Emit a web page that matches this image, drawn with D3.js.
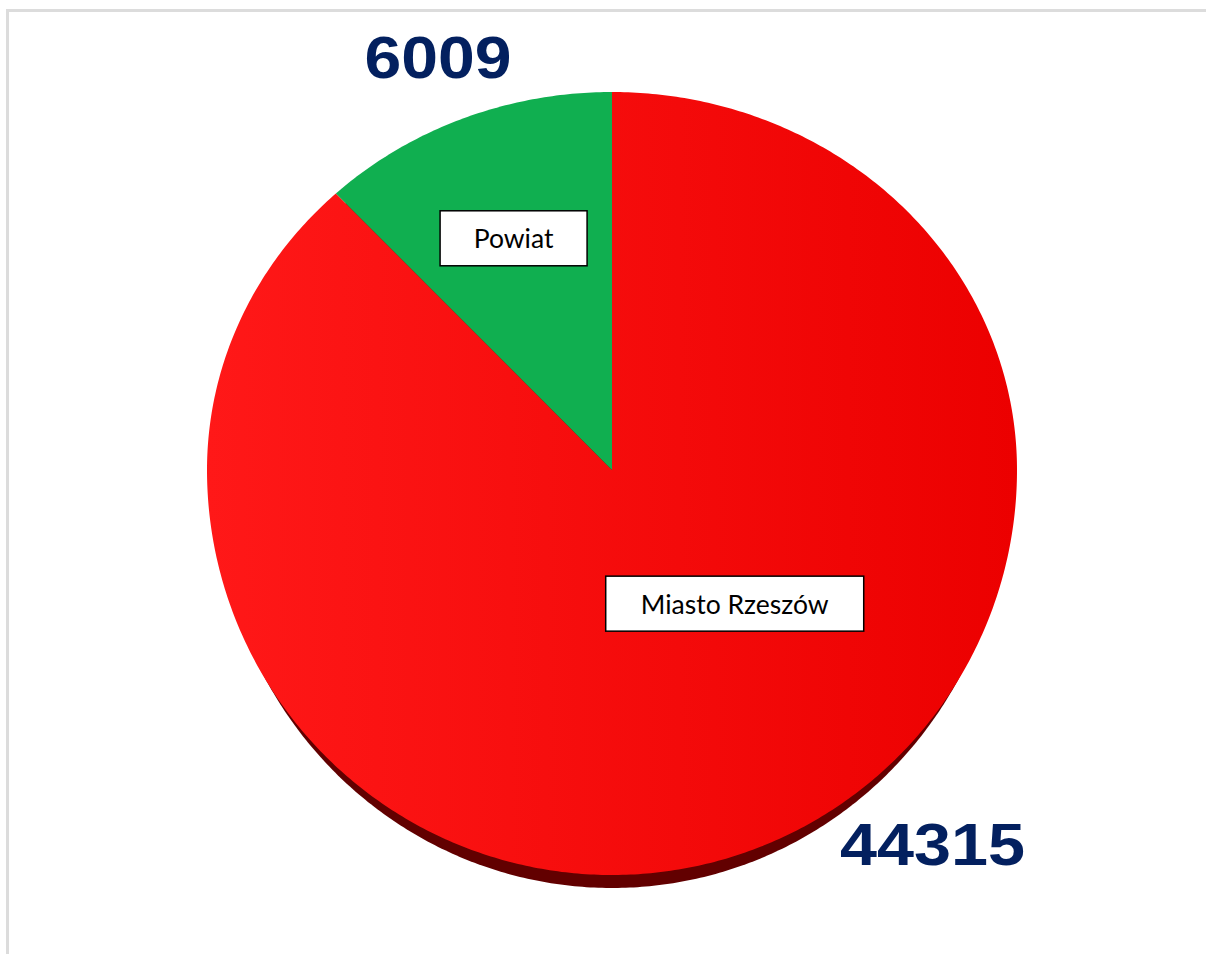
<!DOCTYPE html>
<html>
<head>
<meta charset="utf-8">
<script src="https://cdn.jsdelivr.net/npm/d3@7"></script>
<style>
  html, body { margin: 0; padding: 0; background: #fff; }
  svg { display: block; }
</style>
</head>
<body>
<svg id="chart" width="1206" height="954"></svg>
<script>
// ---- data ----
const categories = ["Miasto Rzeszów", "Powiat"];
const values = [44315, 6009];
const valueLabels = ["44315", "6009"];
const colors = ["#f20a0a", "#10af50"];

const W = 1206, H = 954;
const svg = d3.select("#chart");

// frame (light gray top & left edges)
svg.append("line").attr("x1", 7.5).attr("x2", W).attr("y1", 10.5).attr("y2", 10.5)
  .attr("stroke", "#dcdcdc").attr("stroke-width", 3);
svg.append("line").attr("x1", 7.5).attr("x2", 7.5).attr("y1", 9).attr("y2", H)
  .attr("stroke", "#dcdcdc").attr("stroke-width", 3);

// scales mapping unit circle to slightly perspective ellipse
const sx = d3.scaleLinear().domain([-1, 1]).range([207, 1017]);
const sy = d3.scaleLinear().domain([-1, 0, 1]).range([92, 470, 875]);
const sxSide = d3.scaleLinear().domain([-1, 1]).range([216, 1008]);
const sySide = d3.scaleLinear().domain([-1, 0, 1]).range([105, 483, 888]);

const pie = d3.pie().sort(null).value(d => d);
const arcs = pie(values);

const line = d3.line().x(p => sx(p[0])).y(p => sy(p[1]));
const sideLine = d3.line().x(p => sxSide(p[0])).y(p => sySide(p[1]));

function slicePoints(a0, a1) {
  const n = Math.max(8, Math.ceil((a1 - a0) / 0.01));
  const pts = [[0, 0]];
  for (let i = 0; i <= n; i++) {
    const a = a0 + (a1 - a0) * i / n;
    pts.push([Math.sin(a), -Math.cos(a)]);
  }
  pts.push([0, 0]);
  return pts;
}

const defs = svg.append("defs");
const grad = defs.append("linearGradient").attr("id", "redGrad")
  .attr("x1", "0%").attr("x2", "100%").attr("y1", "0%").attr("y2", "0%");
grad.append("stop").attr("offset", "0%").attr("stop-color", "#ff1818");
grad.append("stop").attr("offset", "100%").attr("stop-color", "#ec0000");

// side (thickness) of the 3D pie
svg.append("path")
  .attr("d", sideLine(slicePoints(0, 2 * Math.PI).slice(1, -1)) + "Z")
  .attr("fill", "#620000");

// top faces
svg.selectAll("path.slice").data(arcs).enter().append("path")
  .attr("class", "slice")
  .attr("d", d => line(slicePoints(d.startAngle, d.endAngle)) + "Z")
  .attr("fill", (d, i) => i === 0 ? "url(#redGrad)" : colors[i]);

// category label boxes (positioned relative to pie geometry)
const boxSpecs = [
  { w: 258, h: 55, cx: sx(0.303), cy: sy(0.33), fs: 26.5 },
  { w: 147, h: 55, cx: sx(-0.243), cy: sy(-0.613), fs: 26.5 }
];
arcs.forEach((d, i) => {
  const b = boxSpecs[i];
  const g = svg.append("g").attr("transform", `translate(${b.cx},${b.cy})`);
  g.append("rect").attr("x", -b.w / 2).attr("y", -b.h / 2)
    .attr("width", b.w).attr("height", b.h)
    .attr("fill", "#fff").attr("stroke", "#000").attr("stroke-width", 1.5);
  g.append("text").attr("x", 0).attr("y", 10)
    .attr("text-anchor", "middle")
    .attr("font-family", "Lato, 'Open Sans', sans-serif")
    .attr("font-size", b.fs)
    .attr("fill", "#000")
    .text(categories[i]);
});

// value labels
const valSpecs = [
  { x: sx(0.563), y: 865, len: 185 },
  { x: sx(-0.611), y: 78, len: 147 }
];
arcs.forEach((d, i) => {
  const v = valSpecs[i];
  svg.append("text")
    .attr("x", v.x).attr("y", v.y)
    .attr("font-family", "'Liberation Sans', Arial, sans-serif")
    .attr("font-weight", "bold")
    .attr("font-size", 60)
    .attr("fill", "#03205f")
    .attr("textLength", v.len)
    .attr("lengthAdjust", "spacingAndGlyphs")
    .text(valueLabels[i]);
});
</script>
</body>
</html>
